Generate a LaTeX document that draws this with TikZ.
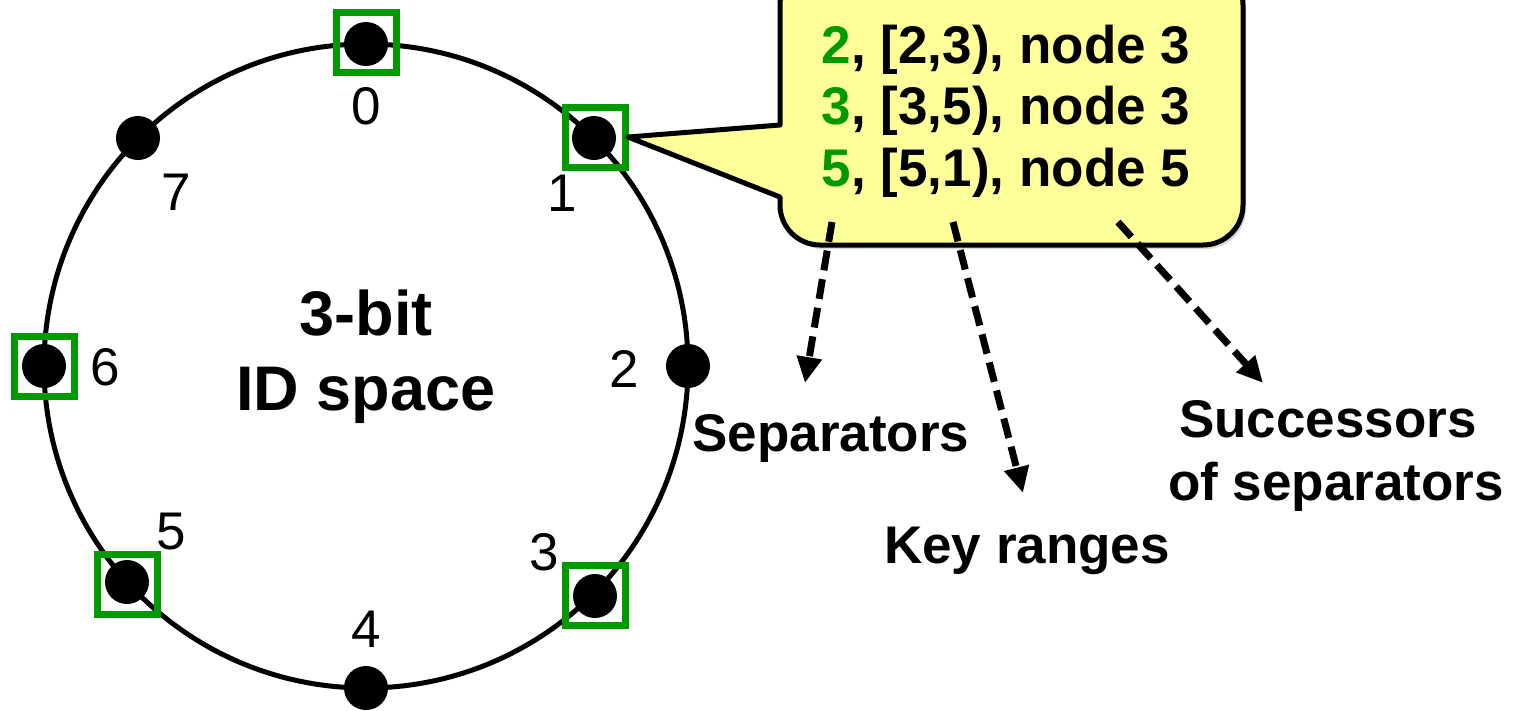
\documentclass[tikz,border=0pt]{standalone}
\usepackage{fontspec}
\setmainfont{Liberation Sans}
\usetikzlibrary{arrows.meta,calc,shadows}
\definecolor{sepgreen}{RGB}{0,153,0}
\definecolor{callfill}{RGB}{255,255,153}
\begin{document}
\begin{tikzpicture}[x=1pt,y=-1pt,
  ring/.style={line width=5pt},
  dot/.style={circle,fill=black,minimum size=44pt,inner sep=0pt},
  sepbox/.style={draw=sepgreen,line width=7pt,minimum size=60pt,inner sep=0pt},
  idlabel/.style={inner sep=0pt,font=\fontsize{53}{53}\selectfont},
  title/.style={inner sep=0pt,anchor=base,font=\fontsize{63}{63}\selectfont\bfseries},
  entry/.style={inner sep=0pt,anchor=base,font=\fontsize{53}{53}\selectfont\bfseries},
  tag/.style={inner sep=0pt,anchor=base,font=\fontsize{53}{53}\selectfont\bfseries},
  callout/.style={fill=callfill,draw=black,line width=5pt,line join=round,
    drop shadow={shadow xshift=3pt,shadow yshift=-4pt,opacity=0.3}},
  pointer/.style={line width=7pt,dash pattern=on 20pt off 9pt,
    -{Triangle[length=26pt,width=24pt]}}
]
\useasboundingbox (0,0) rectangle (1521,710);

% identifier ring
\coordinate (c) at (366,366);
\draw[ring] (c) circle[radius=322pt];

% the eight identifiers on the ring
\foreach \k/\px/\py in {0/366/44,1/594/138,2/688/366,3/595/596,
                        4/366/688,5/127/582,6/44/366,7/138/138}
  \node[dot] (d\k) at (\px,\py) {};

% separators
\foreach \k/\dx/\dy in {0/0/-2,1/1/-1,3/0/-1,5/0/2,6/0/0}
  \node[sepbox] (s\k) at ($(d\k)+(\dx,\dy)$) {};

% identifier numbers
\node[idlabel] (l0) at (366,106) {0};
\node[idlabel] (l1) at (562,193) {1};
\node[idlabel] (l2) at (624,369) {2};
\node[idlabel] (l3) at (544,552) {3};
\node[idlabel] (l4) at (366,629) {4};
\node[idlabel] (l5) at (171,532) {5};
\node[idlabel] (l6) at (105,367) {6};
\node[idlabel] (l7) at (176,192) {7};

% centre title
\node[title] (t1) at (366,335) {3-bit};
\node[title] (t2) at (366,410) {ID space};

% callout with its pointer to identifier 1
\coordinate (tip) at (628,137);
\path[callout] (tip) -- (780,125) -- (780,5)
  arc[start angle=180,end angle=90,radius=40pt] -- (1203,-35)
  arc[start angle=90,end angle=0,radius=40pt] -- (1243,205)
  arc[start angle=0,end angle=-90,radius=40pt] -- (820,245)
  arc[start angle=-90,end angle=-180,radius=40pt] -- (780,197) -- cycle;

\node[entry] (e1) at (1006,63) {\textcolor{sepgreen}{2}, [2,3), node 3};
\node[entry] (e2) at (1006,124) {\textcolor{sepgreen}{3}, [3,5), node 3};
\node[entry] (e3) at (1006,186) {\textcolor{sepgreen}{5}, [5,1), node 5};

% legend labels
\node[tag] (sep) at (831,451) {Separators};
\node[tag] (keys) at (1027,563) {Key ranges};
\node[tag] (suc1) at (1328,437) {Successors};
\node[tag] (suc2) at (1336,500) {of separators};

% dashed explanation arrows
\coordinate (a1s) at (832,222);  \coordinate (a1e) at (805,383);
\coordinate (a2s) at (953,222);  \coordinate (a2e) at (1023,493);
\coordinate (a3s) at (1118,222); \coordinate (a3e) at (1263,383);
\draw[pointer] (a1s) -- (a1e);
\draw[pointer] (a2s) -- (a2e);
\draw[pointer] (a3s) -- (a3e);
\end{tikzpicture}
\end{document}
